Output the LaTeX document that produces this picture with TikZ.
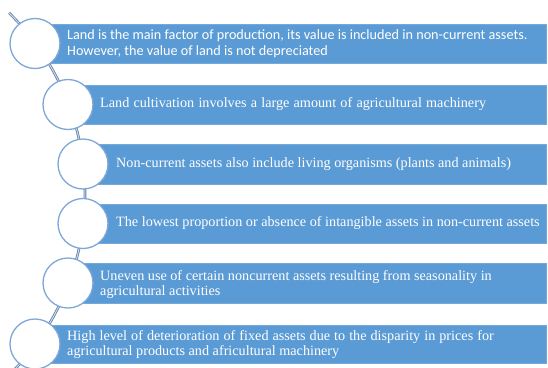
\documentclass[tikz,border=0pt]{standalone}
\usepackage{fontspec}
\setmainfont{Liberation Serif}
\newfontfamily\calibrifont{Carlito}
\definecolor{barblue}{HTML}{5B9BD5}
\definecolor{ringblue}{HTML}{7EA6D8}
\definecolor{arcgray}{HTML}{5F7FA8}
\begin{document}
\begin{tikzpicture}[x=1pt,y=-1pt,
  bar/.style={fill=barblue, draw=barblue!85!white, line width=0.5pt},
  ring/.style={circle, fill=white, draw=ringblue, line width=1.3pt, minimum size=50pt, inner sep=0pt},
  txt/.style={text=white, anchor=west, align=left, inner sep=0pt, font=\fontsize{14.2}{15}\selectfont},
  sanstxt/.style={txt, font=\calibrifont\fontsize{14.2}{16}\selectfont},
  spine/.style={draw=arcgray, double=white!70!arcgray, double distance=1pt, line width=0.8pt}]
\useasboundingbox (0,0) rectangle (548,367);
% spine arc
\draw[spine] (-169,194) ++(-45.5:254) arc[start angle=-45.5, end angle=45, radius=254];
% bars
\path[bar] (35,24) rectangle (546,63);
\path[bar] (68,85) rectangle (546,124);
\path[bar] (83,144) rectangle (546,184);
\path[bar] (83,204) rectangle (546,243);
\path[bar] (68,263) rectangle (546,303);
\path[bar] (35,325) rectangle (546,363);
% circles
\node[ring] (c1) at (35,43.5) {};
\node[ring] (c2) at (68,104.5) {};
\node[ring] (c3) at (83,164) {};
\node[ring] (c4) at (83,223.5) {};
\node[ring] (c5) at (68,283) {};
\node[ring] (c6) at (35,344) {};
% texts
\node[sanstxt] (t1) at (67,44) {Land is the main factor of production, its value is included in non-current assets.\\However, the value of land is not depreciated};
\node[txt] (t2) at (100,104.5) {\spaceskip=4.2pt Land cultivation involves a large amount of agricultural machinery};
\node[txt] (t3) at (116,164) {Non-current assets also include living organisms (plants and animals)};
\node[txt] (t4) at (116,223.5) {The lowest proportion or absence of intangible assets in non-current assets};
\node[txt] (t5) at (100,284.5) {Uneven use of certain noncurrent assets resulting from seasonality in\\agricultural activities};
\node[txt] (t6) at (67,344.5) {\spaceskip=4pt High level of deterioration of fixed assets due to the disparity in prices for\\agricultural products and africultural machinery};
\end{tikzpicture}
\end{document}
